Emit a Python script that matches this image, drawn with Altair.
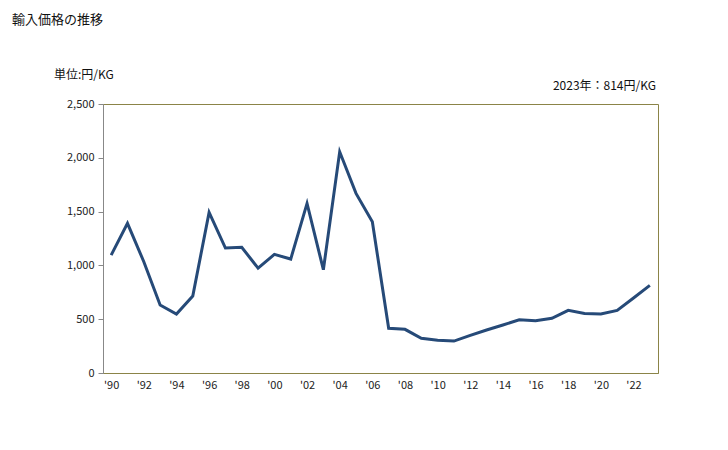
import altair as alt
import pandas as pd

years = list(range(1990, 2024))
prices = [1095, 1391, 1034, 632, 548, 715, 1493, 1161, 1168, 975, 1102, 1059, 1576, 960, 2056,
          1669, 1406, 415, 406, 322, 304, 297, 350, 400, 446, 495, 486, 508, 582, 554, 548, 582, 697, 814]
y_ticks = [0, 500, 1000, 1500, 2000, 2500]

df = pd.DataFrame({"year": [str(y) for y in years], "price": prices})
one = pd.DataFrame({"k": [0]})

FONT = "Noto Sans CJK JP"

line = alt.Chart(df).mark_line(color="#264a78", strokeWidth=3).encode(
    x=alt.X("year:O", sort=None,
            scale=alt.Scale(type="point", padding=0.5),
            axis=alt.Axis(title=None, ticks=False, labelAngle=0, domainColor="#8b8448",
                          labelExpr="parseInt(datum.value) % 2 == 0 ? \"'\" + slice(datum.value, 2) : ''",
                          labelFont=FONT, labelFontSize=11, labelColor="#222222", labelPadding=6)),
    y=alt.Y("price:Q", scale=alt.Scale(domain=[0, 2500]),
            axis=alt.Axis(title=None, values=y_ticks, format=",.0f",
                          grid=False, tickSize=5, tickColor="#888888", domainColor="#888888",
                          labelFont=FONT, labelFontSize=11, labelColor="#222222", labelPadding=4)),
)

title = alt.Chart(one).mark_text(align="left", baseline="middle", fontSize=13, font=FONT,
                                 color="#111111").encode(
    x=alt.value(-91), y=alt.value(-84), text=alt.value("輸入価格の推移"))
unit = alt.Chart(one).mark_text(align="left", baseline="middle", fontSize=12, font=FONT,
                                color="#111111").encode(
    x=alt.value(-49), y=alt.value(-29), text=alt.value("単位:円/KG"))
note = alt.Chart(one).mark_text(align="right", baseline="middle", fontSize=12, font=FONT,
                                color="#111111").encode(
    x=alt.value(553), y=alt.value(-18), text=alt.value("2023年：814円/KG"))

chart = alt.layer(line, title, unit, note).properties(
    width=555, height=269,
    autosize=alt.AutoSizeParams(type="none"),
    padding={"left": 95, "top": 96, "right": 60, "bottom": 60},
    view=alt.ViewBackground(stroke="#8b8448", strokeWidth=1),
).configure(background="white")

chart.save("out.html", embed_options={"renderer": "svg", "actions": False})
